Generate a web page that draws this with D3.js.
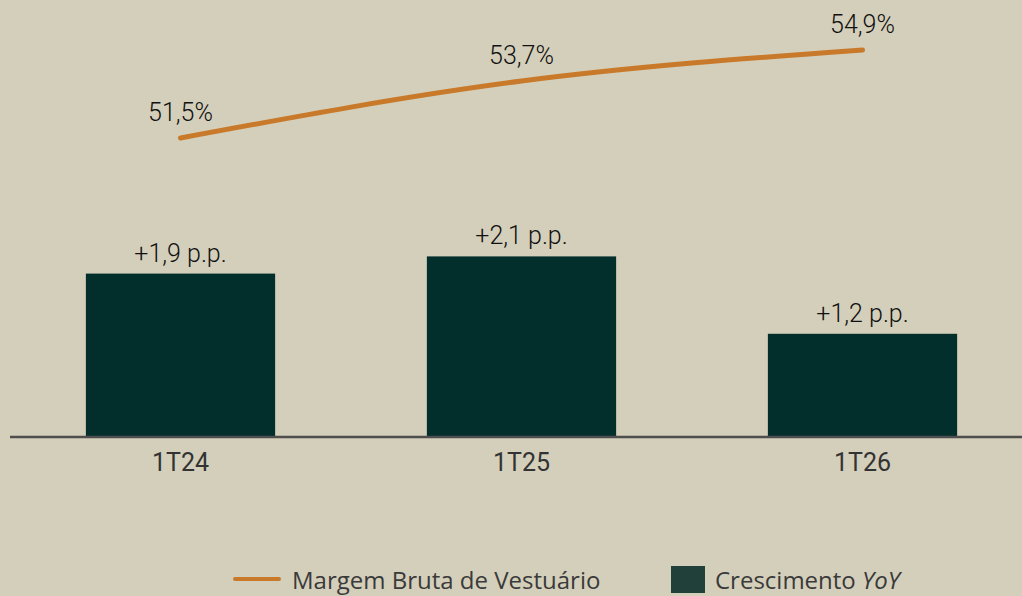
<!DOCTYPE html>
<html>
<head>
<meta charset="utf-8">
<script src="https://cdn.jsdelivr.net/npm/d3@7"></script>
<style>
  html, body { margin: 0; padding: 0; background: #d4cfba; }
  svg { display: block; }
  .val { font-family: Roboto, sans-serif; font-size: 25px; font-weight: 300; fill: #111; }
  .tick-label { font-family: Roboto, sans-serif; font-size: 25px; fill: #333; }
  .legend { font-family: "Open Sans", sans-serif; font-size: 24px; fill: #3a3a3a; }
</style>
</head>
<body>
<div id="chart"></div>
<script>
// data
const quarters = ["1T24", "1T25", "1T26"];
const growthPP = [1.9, 2.1, 1.2];
const growthLabels = ["+1,9 p.p.", "+2,1 p.p.", "+1,2 p.p."];
const grossMargin = [51.5, 53.7, 54.9];
const marginLabels = ["51,5%", "53,7%", "54,9%"];
const legendNames = ["Margem Bruta de Vestuário", "Crescimento"];

const width = 1022, height = 596;
const baseline = 437;

let svg = d3.select("#chart").append("svg")
    .attr("width", width)
    .attr("height", height);

svg.append("rect")
    .attr("width", width)
    .attr("height", height)
    .attr("fill", "#d4cfba");

// scales
let x = d3.scaleBand()
    .domain(quarters)
    .range([10, 1033])
    .paddingInner(0.445)
    .paddingOuter(0.2225);

let yBar = d3.scaleLinear()
    .domain([0, 5])
    .range([baseline, baseline - 5 * 86]);

let yLine = d3.scaleLinear()
    .domain([51.5, 54.9])
    .range([138, 50]);

// bars
svg.selectAll(".bar")
  .data(growthPP)
  .join("rect")
    .attr("class", "bar")
    .attr("x", (d, i) => x(quarters[i]))
    .attr("width", x.bandwidth())
    .attr("y", d => yBar(d))
    .attr("height", d => baseline - yBar(d))
    .attr("fill", "#022e2c");

svg.selectAll(".bar-label")
  .data(growthPP)
  .join("text")
    .attr("class", "val")
    .attr("text-anchor", "middle")
    .attr("x", (d, i) => x(quarters[i]) + x.bandwidth() / 2)
    .attr("y", d => yBar(d) - 12)
    .text((d, i) => growthLabels[i]);

// x axis
let xAxis = svg.append("g")
    .attr("transform", "translate(0," + baseline + ")")
    .call(d3.axisBottom(x).tickSize(0).tickPadding(16));
xAxis.select(".domain").remove();
xAxis.append("line")
    .attr("x1", 10)
    .attr("x2", width)
    .attr("stroke", "#4e4e4e")
    .attr("stroke-width", 2.5);
xAxis.selectAll(".tick text")
    .attr("class", "tick-label")
    .attr("font-size", null)
    .attr("font-family", null)
    .attr("dy", "0.71em");

// line
let line = d3.line()
    .x((d, i) => x(quarters[i]) + x.bandwidth() / 2)
    .y(d => yLine(d))
    .curve(d3.curveMonotoneX);

svg.append("path")
    .datum(grossMargin)
    .attr("d", line)
    .attr("fill", "none")
    .attr("stroke", "#c87a2a")
    .attr("stroke-width", 5)
    .attr("stroke-linecap", "round");

svg.selectAll(".line-label")
  .data(grossMargin)
  .join("text")
    .attr("class", "val")
    .attr("text-anchor", "middle")
    .attr("x", (d, i) => x(quarters[i]) + x.bandwidth() / 2)
    .attr("y", d => yLine(d) - 17)
    .text((d, i) => marginLabels[i]);

// legend
let legend = svg.append("g");
legend.append("line")
    .attr("x1", 235).attr("x2", 279)
    .attr("y1", 579).attr("y2", 579)
    .attr("stroke", "#c87a2a")
    .attr("stroke-width", 4)
    .attr("stroke-linecap", "round");
legend.append("text")
    .attr("class", "legend")
    .attr("x", 292)
    .attr("y", 589)
    .text(legendNames[0]);
legend.append("rect")
    .attr("x", 671).attr("y", 566)
    .attr("width", 34).attr("height", 27)
    .attr("fill", "#21403a");
let t2 = legend.append("text")
    .attr("class", "legend")
    .attr("x", 715)
    .attr("y", 589);
t2.append("tspan").text(legendNames[1] + " ");
t2.append("tspan").attr("font-style", "italic").text("YoY");
</script>
</body>
</html>
